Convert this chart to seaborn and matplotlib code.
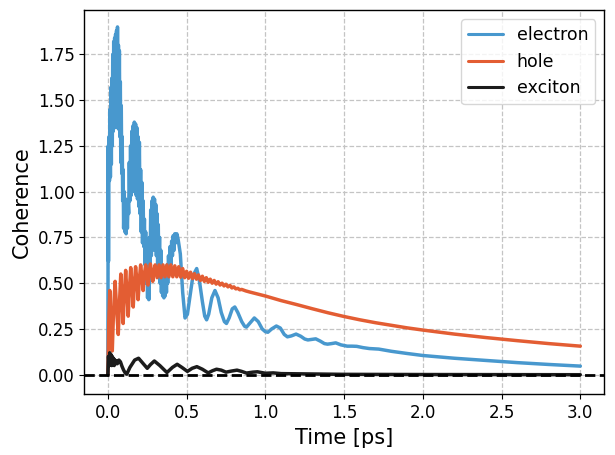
import numpy as np
import pandas as pd
import matplotlib
matplotlib.use("Agg")
import matplotlib.pyplot as plt
import seaborn as sns

# ---------------- data ----------------
electron_t = [0.000, 0.002, 0.004, 0.007, 0.010, 0.013, 0.016, 0.019, 0.022, 0.025,
              0.028, 0.031, 0.034, 0.037, 0.040, 0.043, 0.046, 0.049, 0.052, 0.055,
              0.058, 0.061, 0.064, 0.067, 0.070, 0.073, 0.076, 0.079, 0.082, 0.085,
              0.088, 0.091, 0.094, 0.097, 0.100, 0.104, 0.108, 0.112, 0.116, 0.120,
              0.124, 0.128, 0.132, 0.136, 0.140, 0.144, 0.148, 0.152, 0.156, 0.160,
              0.164, 0.168, 0.172, 0.176, 0.180, 0.184, 0.188, 0.192, 0.196, 0.200,
              0.204, 0.208, 0.212, 0.216, 0.220, 0.224, 0.228, 0.232, 0.236, 0.240,
              0.244, 0.248, 0.252, 0.256, 0.260, 0.264, 0.268, 0.272, 0.276, 0.280,
              0.284, 0.288, 0.292, 0.296, 0.300, 0.304, 0.308, 0.312, 0.316, 0.320,
              0.324, 0.328, 0.332, 0.336, 0.340, 0.344, 0.348, 0.352, 0.356, 0.360,
              0.364, 0.368, 0.372, 0.376, 0.380, 0.385, 0.390, 0.395, 0.400, 0.405,
              0.410, 0.415, 0.420, 0.425, 0.430, 0.438, 0.446, 0.460, 0.475, 0.490,
              0.505, 0.520, 0.540, 0.564, 0.580, 0.600, 0.615, 0.627, 0.640, 0.660,
              0.680, 0.700, 0.720, 0.740, 0.753, 0.770, 0.790, 0.806, 0.825, 0.850,
              0.868, 0.880, 0.900, 0.930, 0.955, 0.980, 1.000, 1.016, 1.040, 1.070,
              1.095, 1.120, 1.140, 1.165, 1.195, 1.225, 1.250, 1.270, 1.295, 1.320,
              1.350, 1.375, 1.395, 1.420, 1.447, 1.480, 1.520, 1.550, 1.580, 1.620,
              1.660, 1.720, 1.800, 1.900, 2.000, 2.200, 2.400, 2.600, 2.800, 3.000]
electron_v = [0.00, 1.25, 0.62, 1.30, 1.06, 1.45, 1.08, 1.57, 1.15, 1.62,
              1.25, 1.75, 1.33, 1.82, 1.35, 1.84, 1.36, 1.86, 1.35, 1.88,
              1.36, 1.90, 1.35, 1.80, 1.34, 1.77, 1.30, 1.60, 1.16, 1.47,
              1.10, 1.30, 0.95, 1.12, 0.80, 1.00, 0.78, 0.96, 0.77, 0.92,
              0.80, 0.95, 0.88, 1.16, 0.95, 1.25, 0.98, 1.33, 1.00, 1.36,
              1.02, 1.38, 1.00, 1.37, 0.98, 1.35, 0.96, 1.30, 0.92, 1.27,
              0.88, 1.12, 0.78, 1.05, 0.72, 0.95, 0.70, 0.85, 0.60, 0.78,
              0.50, 0.70, 0.42, 0.62, 0.41, 0.75, 0.55, 0.90, 0.65, 0.95,
              0.68, 0.97, 0.70, 0.96, 0.68, 0.93, 0.65, 0.88, 0.60, 0.82,
              0.55, 0.75, 0.50, 0.68, 0.45, 0.60, 0.43, 0.55, 0.42, 0.52,
              0.43, 0.55, 0.45, 0.60, 0.50, 0.65, 0.55, 0.70, 0.60, 0.73,
              0.65, 0.76, 0.68, 0.77, 0.72, 0.77, 0.74, 0.66, 0.45, 0.31,
              0.33, 0.42, 0.54, 0.58, 0.52, 0.40, 0.32, 0.30, 0.33, 0.42,
              0.46, 0.42, 0.34, 0.29, 0.28, 0.31, 0.36, 0.37, 0.34, 0.29,
              0.265, 0.26, 0.28, 0.31, 0.29, 0.25, 0.235, 0.232, 0.25, 0.266,
              0.255, 0.22, 0.207, 0.212, 0.222, 0.21, 0.195, 0.19, 0.193, 0.196,
              0.183, 0.17, 0.167, 0.170, 0.174, 0.163, 0.156, 0.156, 0.155, 0.148,
              0.143, 0.140, 0.128, 0.116, 0.105, 0.090, 0.078, 0.066, 0.056, 0.047]

hole_t = [0.000, 0.006, 0.012, 0.020, 0.028, 0.036, 0.046, 0.056, 0.066, 0.074,
          0.082, 0.090, 0.097, 0.105, 0.113, 0.121, 0.129, 0.137, 0.145, 0.153,
          0.161, 0.168, 0.176, 0.184, 0.192, 0.200, 0.208, 0.216, 0.224, 0.232,
          0.240, 0.248, 0.255, 0.262, 0.270, 0.278, 0.285, 0.292, 0.300, 0.3125,
          0.325, 0.3375, 0.350, 0.3625, 0.375, 0.3875, 0.400, 0.4125, 0.425, 0.4375,
          0.450, 0.4625, 0.475, 0.4875, 0.500, 0.5125, 0.525, 0.5375, 0.550, 0.5625,
          0.575, 0.5875, 0.600, 0.6125, 0.625, 0.6375, 0.650, 0.6625, 0.675, 0.6875,
          0.700, 0.7125, 0.725, 0.7375, 0.750, 0.7625, 0.775, 0.7875, 0.800, 0.8125,
          0.825, 0.8375, 0.850, 0.875, 0.900, 1.000, 1.100, 1.200, 1.300, 1.400,
          1.500, 1.600, 1.700, 1.800, 1.900, 2.000, 2.200, 2.400, 2.600, 2.800, 3.000]
hole_v = [0.00, 0.30, 0.46, 0.25, 0.13, 0.35, 0.51, 0.35, 0.22, 0.40,
          0.55, 0.42, 0.28, 0.45, 0.57, 0.45, 0.32, 0.47, 0.585, 0.49,
          0.37, 0.49, 0.59, 0.52, 0.41, 0.52, 0.60, 0.54, 0.46, 0.55,
          0.60, 0.55, 0.49, 0.56, 0.605, 0.56, 0.51, 0.56, 0.60, 0.53,
          0.60, 0.53, 0.60, 0.535, 0.60, 0.535, 0.60, 0.535, 0.595, 0.535,
          0.59, 0.533, 0.58, 0.53, 0.565, 0.527, 0.56, 0.525, 0.552, 0.522,
          0.545, 0.515, 0.538, 0.51, 0.53, 0.505, 0.522, 0.50, 0.515, 0.495,
          0.508, 0.49, 0.50, 0.485, 0.494, 0.48, 0.488, 0.474, 0.48, 0.469,
          0.472, 0.464, 0.466, 0.458, 0.452, 0.430, 0.405, 0.383, 0.360, 0.338,
          0.318, 0.300, 0.284, 0.270, 0.256, 0.244, 0.222, 0.203, 0.186, 0.170, 0.156]

exciton_t = [0.000, 0.004, 0.008, 0.012, 0.016, 0.020, 0.024, 0.028, 0.032, 0.036,
             0.040, 0.045, 0.050, 0.055, 0.060, 0.070, 0.080, 0.090, 0.100, 0.110,
             0.120, 0.140, 0.170, 0.195, 0.220, 0.250, 0.270, 0.295, 0.330, 0.375,
             0.410, 0.440, 0.470, 0.505, 0.535, 0.565, 0.600, 0.637, 0.665, 0.690,
             0.720, 0.750, 0.785, 0.820, 0.850, 0.880, 0.920, 0.950, 1.000, 1.050,
             1.100, 1.200, 1.300, 1.500, 2.000, 2.500, 3.000]
exciton_v = [0.000, 0.100, 0.050, 0.120, 0.060, 0.110, 0.050, 0.100, 0.060, 0.090,
             0.050, 0.080, 0.060, 0.075, 0.060, 0.080, 0.070, 0.045, 0.025, 0.010,
             0.003, 0.040, 0.080, 0.090, 0.065, 0.035, 0.055, 0.075, 0.050, 0.012,
             0.040, 0.057, 0.040, 0.018, 0.035, 0.044, 0.030, 0.010, 0.022, 0.030,
             0.025, 0.014, 0.020, 0.025, 0.018, 0.009, 0.014, 0.016, 0.008, 0.010,
             0.006, 0.005, 0.004, 0.002, 0.001, 0.0005, 0.000]

series_names = ["electron", "hole", "exciton"]
series_colors = ["#4898CE", "#E35D33", "#1C1C1C"]

# ---------------- plotting ----------------
sns.set_theme(style="ticks")
plt.rcParams["font.family"] = ["DejaVu Sans"]
plt.rcParams["text.color"] = "black"
plt.rcParams["axes.labelcolor"] = "black"
plt.rcParams["xtick.color"] = "black"
plt.rcParams["ytick.color"] = "black"

fig = plt.figure(figsize=(6.15, 4.55), dpi=100)
ax = fig.add_axes([0.137, 0.133, 0.845, 0.844])

frames = [
    pd.DataFrame({"t": electron_t, "v": electron_v}),
    pd.DataFrame({"t": hole_t, "v": hole_v}),
    pd.DataFrame({"t": exciton_t, "v": exciton_v}),
]
for df, name, col in zip(frames, series_names, series_colors):
    sns.lineplot(data=df, x="t", y="v", ax=ax, color=col, lw=2.5,
                 estimator=None, sort=False, label=name)

ax.axhline(0, color="black", ls="--", lw=2, zorder=5)

ax.set_xlim(-0.15, 3.15)
ax.set_ylim(-0.108, 1.99)
ax.set_xticks([0.0, 0.5, 1.0, 1.5, 2.0, 2.5, 3.0])
ax.set_yticks([0.0, 0.25, 0.5, 0.75, 1.0, 1.25, 1.5, 1.75])
ax.set_yticklabels(["0.00", "0.25", "0.50", "0.75", "1.00", "1.25", "1.50", "1.75"])
ax.set_xticklabels(["0.0", "0.5", "1.0", "1.5", "2.0", "2.5", "3.0"])
ax.tick_params(labelsize=12, length=3.5, width=0.8, colors="black")
ax.grid(True, ls="--", color="#c4c4c4", lw=0.9)
for s in ax.spines.values():
    s.set_color("black")
    s.set_linewidth(1.0)

ax.set_xlabel("Time [ps]", fontsize=15, color="black")
ax.set_ylabel("Coherence", fontsize=15, color="black")

leg = ax.legend(loc="upper right", fontsize=12.5, frameon=True, fancybox=True,
                framealpha=0.8, edgecolor="#cccccc", handlelength=2.0)
for line in leg.get_lines():
    line.set_linewidth(2.2)
for txt in leg.get_texts():
    txt.set_color("black")

fig.savefig("out.png", dpi=100)
